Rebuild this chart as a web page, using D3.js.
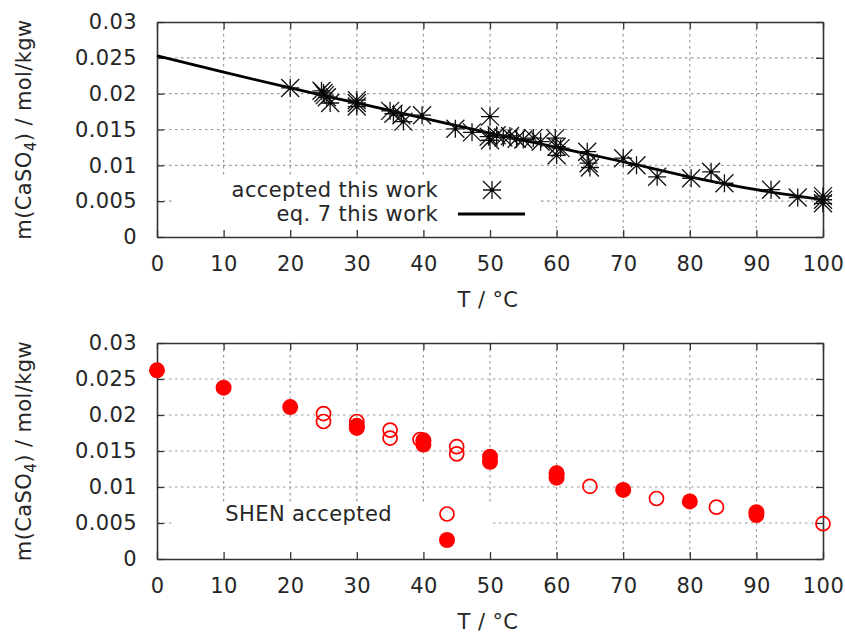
<!DOCTYPE html>
<html>
<head>
<meta charset="utf-8">
<script src="https://cdn.jsdelivr.net/npm/d3@7"></script>
<style>
  body { margin: 0; background: #fff; }
  svg text { font-family: "DejaVu Sans", sans-serif; fill: #262626; letter-spacing: 0.4px; }
</style>
</head>
<body>
<svg width="845" height="633"></svg>
<script>
// ---- data ----
// top panel: accepted points (this work)
var starT = [20, 24.7, 25, 25.2, 25.5, 26, 30, 30, 30, 35, 35.5, 36.7, 37, 39.8,
  44.8, 47.3, 50, 49.8, 50, 51, 52, 53, 54, 55, 56.5, 57.6, 59.8, 60, 60, 60.6,
  64.6, 64.8, 65, 70, 72, 75.1, 80.2, 83.2, 85.2, 92.2, 96.2, 100, 100, 100];
var starM = [0.0208, 0.0204, 0.0201, 0.0198, 0.0195, 0.0187, 0.0191, 0.0187, 0.0182, 0.0176, 0.0172, 0.0170, 0.0161, 0.0170,
  0.0151, 0.0146, 0.0168, 0.0140, 0.0135, 0.0142, 0.0139, 0.0141, 0.0137, 0.0136, 0.0138, 0.0133, 0.0138, 0.0126, 0.0114, 0.0124,
  0.0119, 0.0103, 0.0097, 0.0110, 0.0100, 0.0084, 0.0082, 0.0091, 0.0075, 0.0066, 0.0055, 0.0057, 0.0052, 0.0047];

// top panel: eq. 7 curve
var eqT = [0, 10, 20, 30, 40, 50, 60, 70, 80, 90, 100];
var eqM = [0.0253, 0.0230, 0.0208, 0.0187, 0.0166, 0.0145, 0.0125, 0.0105, 0.0084, 0.0066, 0.0052];

// bottom panel: SHEN accepted (open circles)
var openT = [25, 25, 30, 35, 35, 39.5, 40, 45, 45, 60, 65, 75, 84, 100];
var openM = [0.0202, 0.0191, 0.0191, 0.0179, 0.0168, 0.0166, 0.0165, 0.0156, 0.0146, 0.0119, 0.0101, 0.0084, 0.0072, 0.0049];

// bottom panel: second SHEN set (filled circles, no title)
var fillT = [0, 10, 20, 30, 30, 40, 40, 50, 50, 60, 60, 70, 80, 90, 90];
var fillM = [0.0262, 0.0238, 0.0211, 0.0185, 0.0182, 0.0164, 0.0159, 0.0142, 0.0135, 0.0119, 0.0113, 0.0096, 0.0080, 0.0065, 0.0061];

var xTicks = [0, 10, 20, 30, 40, 50, 60, 70, 80, 90, 100];
var yTicks = [0, 0.005, 0.01, 0.015, 0.02, 0.025, 0.03];
var yTickLabels = ["0", "0.005", "0.01", "0.015", "0.02", "0.025", "0.03"];

var svg = d3.select("svg");
var left = 157, right = 823;
var fontSize = 21;

function starPath(s) {
  return "M" + (-s) + ",0H" + s + "M0," + (-s) + "V" + s +
    "M" + (-s) + "," + (-s) + "L" + s + "," + s +
    "M" + (-s) + "," + s + "L" + s + "," + (-s);
}

function panel(top, bottom, keyBox) {
  var g = svg.append("g");
  var x = d3.scaleLinear().domain([0, 100]).range([left, right]);
  var y = d3.scaleLinear().domain([0, 0.03]).range([bottom, top]);

  // clip grid so the key box stays clear
  var id = "clip" + top;
  var cp = g.append("clipPath").attr("id", id);
  cp.append("path").attr("clip-rule", "evenodd")
    .attr("d", "M" + left + "," + top + "H" + right + "V" + bottom + "H" + left + "Z" +
      "M" + keyBox[0] + "," + keyBox[1] + "H" + keyBox[2] + "V" + keyBox[3] + "H" + keyBox[0] + "Z");

  var grid = g.append("g").attr("clip-path", "url(#" + id + ")")
    .attr("stroke", "#9a9a9a").attr("stroke-width", 1.2).attr("stroke-dasharray", "2.5,3.5");
  grid.selectAll("line.v").data(xTicks.slice(1, -1)).enter().append("line")
    .attr("x1", d => x(d)).attr("x2", d => x(d)).attr("y1", top).attr("y2", bottom);
  grid.selectAll("line.h").data(yTicks.slice(1, -1)).enter().append("line")
    .attr("y1", d => y(d)).attr("y2", d => y(d)).attr("x1", left).attr("x2", right);

  // axes with inward ticks
  var ax = g.append("g").attr("transform", "translate(0," + bottom + ")")
    .call(d3.axisBottom(x).tickValues(xTicks).tickSizeInner(-7).tickSizeOuter(0).tickPadding(19));
  var axT = g.append("g").attr("transform", "translate(0," + top + ")")
    .call(d3.axisTop(x).tickValues(xTicks).tickSizeInner(-7).tickSizeOuter(0).tickFormat(""));
  var ay = g.append("g").attr("transform", "translate(" + left + ",0)")
    .call(d3.axisLeft(y).tickValues(yTicks).tickSizeInner(-7).tickSizeOuter(0).tickPadding(20)
      .tickFormat((d, i) => yTickLabels[i]));
  var ayR = g.append("g").attr("transform", "translate(" + right + ",0)")
    .call(d3.axisRight(y).tickValues(yTicks).tickSizeInner(-7).tickSizeOuter(0).tickFormat(""));
  [ax, axT, ay, ayR].forEach(function (a) {
    a.selectAll("text").style("font-size", fontSize + "px").style("font-family", "DejaVu Sans").attr("fill", "#262626");
    a.selectAll("line").attr("stroke", "#333").attr("stroke-width", 1.3);
    a.select(".domain").attr("stroke", "#333").attr("stroke-width", 1.6);
  });

  // axis titles
  g.append("text").attr("x", (left + right) / 2 - 2).attr("y", bottom + 70)
    .attr("text-anchor", "middle").style("font-size", fontSize + "px").text("T / °C");
  var yl = g.append("text")
    .attr("transform", "translate(31," + ((top + bottom) / 2) + ") rotate(-90)")
    .attr("text-anchor", "middle").style("font-size", fontSize + "px");
  yl.append("tspan").text("m(CaSO");
  yl.append("tspan").attr("dy", 5).style("font-size", "15px").text("4");
  yl.append("tspan").attr("dy", -5).text(") / mol/kgw");

  return {g: g, x: x, y: y};
}

// ---- top panel ----
var p1 = panel(22, 237, [172, 176, 538, 237]);
var line = d3.line().x(d => p1.x(d[0])).y(d => p1.y(d[1])).curve(d3.curveMonotoneX);
p1.g.append("path").datum(d3.zip(eqT, eqM)).attr("d", line)
  .attr("fill", "none").attr("stroke", "#000").attr("stroke-width", 2.8);

var stars = p1.g.append("g").attr("stroke", "#111").attr("stroke-width", 1.3).attr("fill", "none");
stars.selectAll("path").data(d3.zip(starT, starM)).enter().append("path")
  .attr("transform", d => "translate(" + p1.x(d[0]) + "," + p1.y(d[1]) + ")")
  .attr("d", starPath(9));
stars.selectAll("circle").data(d3.zip(starT, starM)).enter().append("circle")
  .attr("cx", d => p1.x(d[0])).attr("cy", d => p1.y(d[1])).attr("r", 1.6).attr("fill", "#000").attr("stroke", "none");

// key
var k1 = p1.g.append("g").style("font-size", fontSize + "px");
k1.append("text").attr("x", 438).attr("y", 190).attr("dy", "0.35em").attr("text-anchor", "end").text("accepted this work");
k1.append("text").attr("x", 438).attr("y", 214).attr("dy", "0.35em").attr("text-anchor", "end").text("eq. 7 this work");
k1.append("path").attr("transform", "translate(492,190)").attr("d", starPath(9))
  .attr("stroke", "#111").attr("stroke-width", 1.3);
k1.append("circle").attr("cx", 492).attr("cy", 190).attr("r", 1.6).attr("fill", "#000");
k1.append("line").attr("x1", 458).attr("x2", 525).attr("y1", 214).attr("y2", 214)
  .attr("stroke", "#000").attr("stroke-width", 2.8);

// ---- bottom panel ----
var p2 = panel(343, 559, [172, 503, 493, 559]);
var red = "#ff0000";
p2.g.append("g").selectAll("circle").data(d3.zip(openT, openM)).enter().append("circle")
  .attr("cx", d => p2.x(d[0])).attr("cy", d => p2.y(d[1])).attr("r", 7)
  .attr("fill", "none").attr("stroke", red).attr("stroke-width", 1.7);
p2.g.append("g").selectAll("circle").data(d3.zip(fillT, fillM)).enter().append("circle")
  .attr("cx", d => p2.x(d[0])).attr("cy", d => p2.y(d[1])).attr("r", 8)
  .attr("fill", red);

var k2 = p2.g.append("g").style("font-size", fontSize + "px");
k2.append("text").attr("x", 392).attr("y", 514).attr("dy", "0.35em").attr("text-anchor", "end").text("SHEN accepted");
k2.append("circle").attr("cx", 447).attr("cy", 514).attr("r", 7)
  .attr("fill", "none").attr("stroke", red).attr("stroke-width", 1.7);
k2.append("circle").attr("cx", 447).attr("cy", 540).attr("r", 8).attr("fill", red);
</script>
</body>
</html>
